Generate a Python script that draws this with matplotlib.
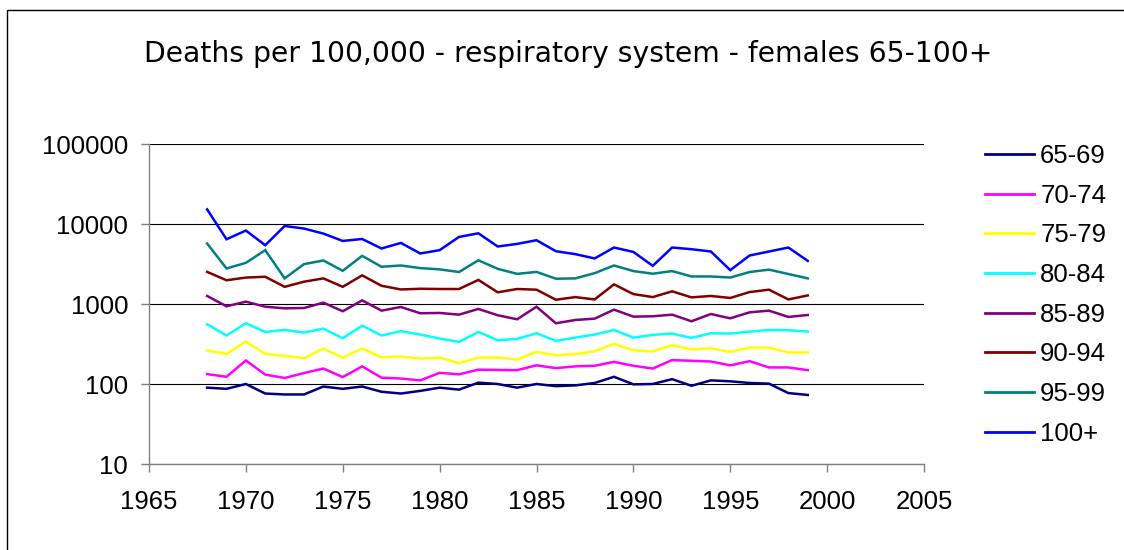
import matplotlib
matplotlib.use("Agg")
import matplotlib.pyplot as plt
from matplotlib.patches import Rectangle
from matplotlib.ticker import FixedLocator, FixedFormatter

years = list(range(1968, 2000))

s_65_69 = [90, 87, 100, 76, 74, 74, 93, 87, 93, 80, 76, 82, 90, 85, 104, 100,
           90, 100, 94, 96, 103, 123, 99, 100, 115, 95, 111, 108, 103, 101, 77, 73]
s_70_74 = [133, 123, 197, 131, 119, 137, 156, 122, 166, 120, 117, 111, 138, 132, 151, 150,
           149, 171, 158, 166, 169, 189, 169, 156, 199, 195, 191, 171, 193, 161, 161, 149]
s_75_79 = [262, 238, 339, 238, 225, 210, 277, 214, 277, 216, 220, 208, 214, 182, 214, 214,
           202, 252, 229, 236, 257, 317, 265, 255, 305, 270, 280, 252, 285, 285, 248, 248]
s_80_84 = [558, 404, 574, 448, 474, 440, 492, 373, 537, 404, 457, 415, 370, 336, 448, 352,
           366, 431, 346, 380, 415, 474, 380, 411, 427, 377, 431, 427, 452, 474, 470, 452]
s_85_89 = [1260, 936, 1070, 925, 883, 891, 1040, 811, 1110, 826, 918, 766, 773, 736, 867, 723,
           644, 925, 574, 631, 656, 850, 695, 702, 736, 608, 750, 662, 787, 826, 689, 729]
s_90_94 = [2520, 1980, 2140, 2190, 1640, 1900, 2090, 1640, 2280, 1690, 1520, 1550, 1540, 1540, 2000, 1400,
           1540, 1510, 1130, 1220, 1140, 1760, 1330, 1220, 1440, 1210, 1260, 1190, 1410, 1510, 1140, 1280]
s_95_99 = [5700, 2780, 3270, 4710, 2090, 3150, 3500, 2600, 4000, 2920, 3030, 2810, 2710, 2510, 3520, 2750,
           2380, 2520, 2070, 2090, 2430, 3030, 2580, 2390, 2580, 2210, 2210, 2140, 2510, 2690, 2370, 2090]
s_100p = [15240, 6450, 8280, 5430, 9440, 8770, 7590, 6140, 6500, 4940, 5800, 4280, 4710, 6890, 7650, 5230,
          5640, 6270, 4570, 4200, 3710, 5080, 4480, 3000, 5080, 4840, 4530, 2650, 4040, 4530, 5080, 3460]

labels = ["65-69", "70-74", "75-79", "80-84", "85-89", "90-94", "95-99", "100+"]
series = [s_65_69, s_70_74, s_75_79, s_80_84, s_85_89, s_90_94, s_95_99, s_100p]
colors = ["#000080", "#FF00FF", "#FFFF00", "#00FFFF", "#800080", "#800000", "#008080", "#0000FF"]

x_ticks = [1965, 1970, 1975, 1980, 1985, 1990, 1995, 2000, 2005]
y_ticks = [10, 100, 1000, 10000, 100000]
y_tick_labels = ["10", "100", "1000", "10000", "100000"]
title = "Deaths per 100,000 - respiratory system - females 65-100+"

W, H = 1124, 550
fig = plt.figure(figsize=(W / 100, H / 100), dpi=100)
fig.patch.set_facecolor("white")

# outer chart frame
fig.patches.append(Rectangle((7 / W, -0.05), 1.2, 1 - 10 / H + 0.05, transform=fig.transFigure,
                             fill=False, edgecolor="#000000", linewidth=1.0))

ax = fig.add_axes([149 / W, 1 - 464 / H, (924 - 149) / W, (464 - 144) / H])
for lab, vals, c in zip(labels, series, colors):
    ax.plot(years, vals, color=c, linewidth=1.8, label=lab, solid_joinstyle="miter")

ax.set_yscale("log")
ax.set_xlim(1965, 2005)
ax.set_ylim(10, 100000)
ax.xaxis.set_major_locator(FixedLocator(x_ticks))
ax.yaxis.set_major_locator(FixedLocator(y_ticks))
ax.yaxis.set_major_formatter(FixedFormatter(y_tick_labels))
ax.yaxis.set_minor_locator(FixedLocator([]))
ax.grid(axis="y", color="#000000", linewidth=0.8)
ax.set_axisbelow(True)
for side in ["top", "right"]:
    ax.spines[side].set_visible(False)
for side in ["left", "bottom"]:
    ax.spines[side].set_color("#808080")
    ax.spines[side].set_linewidth(1.0)
ax.tick_params(axis="both", direction="out", length=6, width=1.0, color="#808080",
               labelsize=18.5, labelfontfamily="Liberation Sans")
ax.tick_params(axis="x", pad=13)
ax.tick_params(axis="y", pad=9)

fig.text(568.5 / W, 1 - 61.7 / H, title, ha="center", va="baseline",
         fontsize=20.3, family="DejaVu Sans", color="#000000")

leg = ax.legend(loc="upper left", bbox_to_anchor=(985 / W, 1 - 144 / H),
                bbox_transform=fig.transFigure, frameon=False,
                prop={"family": "Liberation Sans", "size": 18.5},
                handlelength=1.9, handletextpad=0.25, labelspacing=0.61,
                borderpad=0.0, borderaxespad=0.0)
for line in leg.get_lines():
    line.set_linewidth(2.0)

fig.savefig("out.png", dpi=100, facecolor="white")
